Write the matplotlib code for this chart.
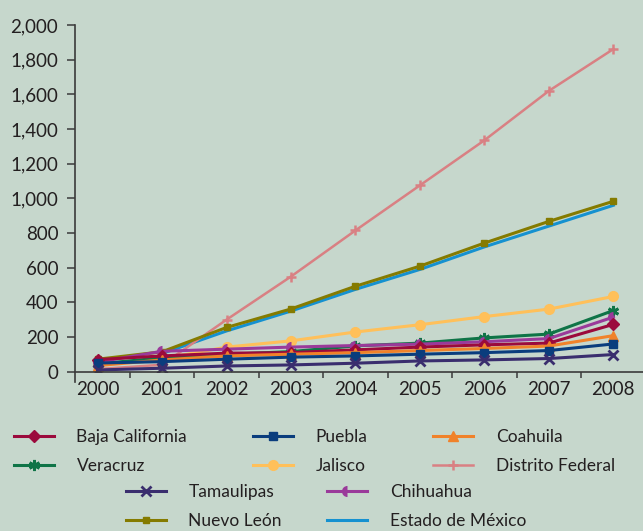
import numpy as np
import matplotlib
matplotlib.use('Agg')
import matplotlib.pyplot as plt
from matplotlib.ticker import FuncFormatter, MultipleLocator

plt.rcParams['font.family'] = ['Lato', 'DejaVu Sans']

years = ['2000', '2001', '2002', '2003', '2004', '2005', '2006', '2007', '2008']

baja_california = [70, 91, 107, 110, 126, 142, 155, 165, 273]
puebla = [50, 58, 72, 84, 91, 101, 110, 122, 160]
coahuila = [35, 68, 91, 101, 110, 122, 134, 148, 208]
veracruz = [45, 80, 100, 116, 149, 165, 195, 217, 353]
jalisco = [40, 75, 142, 178, 229, 271, 318, 361, 434]
distrito_federal = [15, 40, 300, 549, 815, 1075, 1335, 1620, 1861]
tamaulipas = [10, 20, 33, 39, 49, 62, 68, 76, 99]
chihuahua = [55, 118, 130, 142, 151, 159, 173, 191, 315]
nuevo_leon = [72, 115, 255, 362, 493, 609, 742, 867, 983]
estado_mexico = [np.nan, 105, 235, 350, 475, 590, 720, 840, 960]

bg = '#c6d7cc'
txt = '#231f20'

fig = plt.figure(figsize=(6.43, 5.31), dpi=100, facecolor=bg)
ax = fig.add_axes([75/643, 159.3/531, 1 - 75/643, 346.7/531])
ax.set_facecolor(bg)

x = np.arange(len(years))

lines = {}
lines['Estado de México'] = ax.plot(x, estado_mexico, color='#1591d0', lw=2.2)[0]
lines['Distrito Federal'] = ax.plot(x, distrito_federal, color='#d98083', lw=1.8,
                                    marker='+', ms=7, mew=1.8)[0]
lines['Nuevo León'] = ax.plot(x, nuevo_leon, color='#857b00', lw=2.2,
                              marker='s', ms=5)[0]
lines['Jalisco'] = ax.plot(x, jalisco, color='#ffc05a', lw=2.2,
                           marker='o', ms=7)[0]
lines['Veracruz'] = ax.plot(x, veracruz, color='#0f7447', lw=2.2,
                            marker=(6, 2, 0), ms=8, mew=2)[0]
lines['Chihuahua'] = ax.plot(x, chihuahua, color='#9a3a9a', lw=2.2,
                             marker='o', ms=8, fillstyle='left',
                             markerfacecoloralt='none', mew=0)[0]
lines['Baja California'] = ax.plot(x, baja_california, color='#9b0a3c', lw=2.2,
                                   marker='D', ms=6)[0]
lines['Coahuila'] = ax.plot(x, coahuila, color='#f0822a', lw=2.2,
                            marker='^', ms=7)[0]
lines['Puebla'] = ax.plot(x, puebla, color='#0a3d7d', lw=2.2,
                          marker='s', ms=6)[0]
lines['Tamaulipas'] = ax.plot(x, tamaulipas, color='#3a2e6e', lw=2.2,
                              marker='x', ms=7, mew=2)[0]

ax.set_xlim(-0.35, 8.46)
ax.set_ylim(0, 2000)
ax.yaxis.set_major_locator(MultipleLocator(200))
ax.yaxis.set_major_formatter(FuncFormatter(lambda v, p: f'{int(v):,}'))
ax.set_xticks(x)
ax.set_xticklabels(years)
ax.set_xticks(np.arange(0.5, 8.5, 1), minor=True)

for s in ['top', 'right']:
    ax.spines[s].set_visible(False)
for s in ['left', 'bottom']:
    ax.spines[s].set_color('#3a3a3a')
    ax.spines[s].set_linewidth(1.2)
ax.spines['left'].set_bounds(-60, 2000)

ax.tick_params(axis='y', direction='out', length=6, width=1.1, color='#3a3a3a',
               pad=6, labelsize=13.5, labelcolor=txt)
ax.tick_params(axis='x', which='major', length=0, pad=7, labelsize=13.5, labelcolor=txt)
ax.tick_params(axis='x', which='minor', direction='out', length=4, width=1.1,
               color='#3a3a3a')

order1 = ['Baja California', 'Veracruz', 'Puebla', 'Jalisco', 'Coahuila', 'Distrito Federal']
order2 = ['Tamaulipas', 'Nuevo León', 'Chihuahua', 'Estado de México']

common = dict(frameon=False, fontsize=12.5, labelcolor=txt, handlelength=2.3,
              handletextpad=1.3, labelspacing=0.75, borderpad=0, borderaxespad=0)
fig.legend([lines[k] for k in order1], order1, ncol=3, loc='upper left',
           bbox_to_anchor=(14/643, 1 - 429/531), columnspacing=3.8, **common)
fig.legend([lines[k] for k in order2], order2, ncol=2, loc='upper left',
           bbox_to_anchor=(126/643, 1 - 484/531), columnspacing=2.6, **common)

fig.savefig('out.png', dpi=100, facecolor=bg)
